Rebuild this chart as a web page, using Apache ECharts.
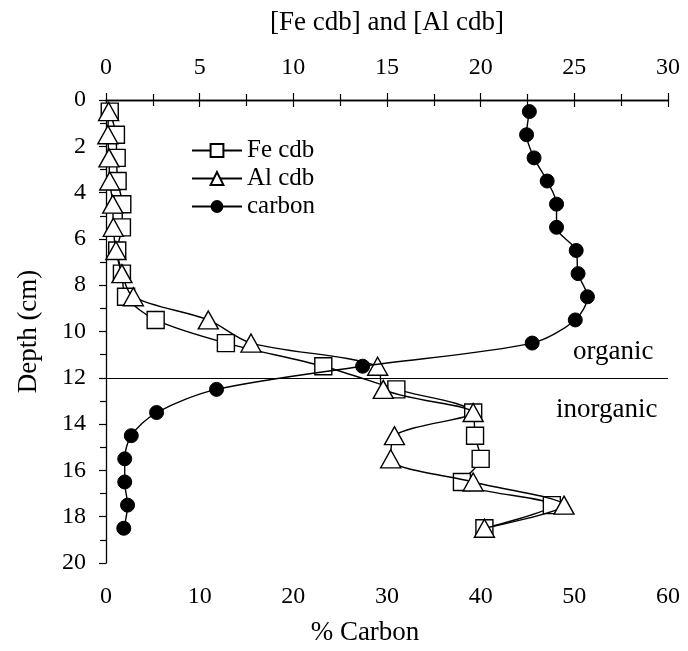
<!DOCTYPE html>
<html><head><meta charset="utf-8">
<script src="https://cdn.jsdelivr.net/npm/echarts@6/dist/echarts.min.js"></script>
<style>html,body{margin:0;padding:0;background:#fff}#c{width:688px;height:651px}</style>
</head><body><div id="c"></div>
<script>
const depths = [0.5,1.5,2.5,3.5,4.5,5.5,6.5,7.5,8.5,9.5,10.5,11.5,12.5,13.5,14.5,15.5,16.5,17.5,18.5];
const feCdb  = [0.2,0.53,0.57,0.62,0.87,0.85,0.6,0.85,1.07,2.65,6.4,11.6,15.5,19.6,19.7,20.0,19.0,23.8,20.2];
const alCdb  = [0.14,0.1,0.16,0.2,0.36,0.39,0.53,0.85,1.46,5.46,7.74,14.5,14.8,19.6,15.4,15.2,19.6,24.45,20.2];
const carbon = [45.2,44.9,45.7,47.1,48.1,48.1,50.2,50.4,51.4,50.1,45.5,27.4,11.8,5.4,2.7,2.0,2.0,2.3,1.9];
const boundaryDepth = 12;

const font = 'Liberation Serif';
const pair = (xs) => xs.map((v,i)=>[v, depths[i]]);
const chart = echarts.init(document.getElementById('c'));
const axisBase = {
  axisLine:{show:true,lineStyle:{color:'#000',width:1.3}},
  axisTick:{show:true,inside:false,length:7,lineStyle:{color:'#000',width:1.2}},
  minorTick:{show:true,splitNumber:2,length:6,lineStyle:{color:'#000',width:1.2}},
  splitLine:{show:false},
  axisLabel:{color:'#000',fontFamily:font,fontSize:24,margin:22},
  nameTextStyle:{color:'#000',fontFamily:font,fontSize:27}
};
chart.setOption({
  animation:false,
  backgroundColor:'#fff',
  grid:{left:106,right:20,top:100,bottom:83},
  legend:{
    orient:'vertical', left:186, top:133, itemWidth:50, itemHeight:16, itemGap:3,
    textStyle:{color:'#000',fontFamily:font,fontSize:25},
    data:['Fe cdb','Al cdb','carbon']
  },
  xAxis:[
    Object.assign({}, axisBase, {type:'value',position:'bottom',min:0,max:60,interval:10,
      name:'% Carbon',nameLocation:'middle',nameGap:56,
      nameTextStyle:{color:'#000',fontFamily:font,fontSize:27,padding:[0,44,0,0]}}),
    Object.assign({}, axisBase, {type:'value',position:'top',min:0,max:30,interval:5,
      axisLabel:{color:'#000',fontFamily:font,fontSize:24,margin:20},
      name:'[Fe cdb] and [Al cdb]',nameLocation:'middle',nameGap:64})
  ],
  yAxis:[Object.assign({}, axisBase, {type:'value',inverse:true,min:0,max:20,interval:2,
    axisLabel:{color:'#000',fontFamily:font,fontSize:24,margin:20},
    name:'Depth (cm)',nameLocation:'middle',nameGap:64})],
  series:[
    {name:'Fe cdb',type:'line',xAxisIndex:1,data:pair(feCdb),smooth:0.3,
      symbol:'rect',symbolSize:17,lineStyle:{color:'#000',width:1.4},
      itemStyle:{color:'#fff',borderColor:'#000',borderWidth:1.4},z:3},
    {name:'Al cdb',type:'line',xAxisIndex:1,data:pair(alCdb),smooth:0.3,
      symbol:'triangle',symbolSize:[20,18],lineStyle:{color:'#000',width:1.4},
      itemStyle:{color:'#fff',borderColor:'#000',borderWidth:1.4},z:4},
    {name:'carbon',type:'line',xAxisIndex:0,data:pair(carbon),smooth:0.3,
      symbol:'circle',symbolSize:14,lineStyle:{color:'#000',width:1.4},
      itemStyle:{color:'#000',borderColor:'#000'},z:5,
      markLine:{silent:true,symbol:'none',label:{show:false},
        lineStyle:{color:'#000',width:1,type:'solid'},data:[{yAxis:boundaryDepth}]}}
  ],
  graphic:[
    {type:'text',left:573,top:338,style:{text:'organic',font:'27px "Liberation Serif"',fill:'#000'}},
    {type:'text',left:556,top:396,style:{text:'inorganic',font:'27px "Liberation Serif"',fill:'#000'}}
  ]
});
</script></body></html>
